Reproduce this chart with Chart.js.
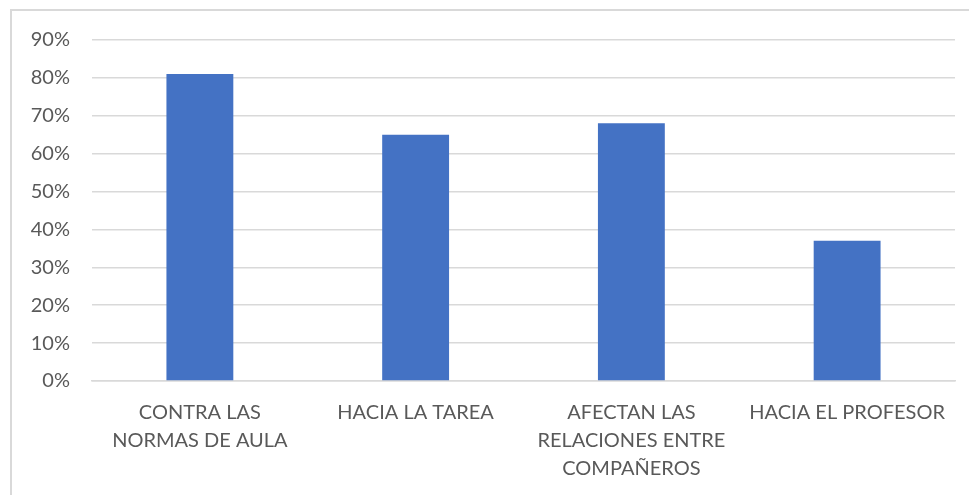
<!DOCTYPE html>
<html>
<head>
<meta charset="utf-8">
<script src="https://cdn.jsdelivr.net/npm/chart.js@4/dist/chart.umd.min.js"></script>
<style>
  html, body { margin: 0; padding: 0; background: #fff; overflow: hidden; }
  #frame { position: absolute; left: 10px; top: 9px; width: 980px; height: 500px;
           border: 2px solid #d9d9d9; box-sizing: border-box; }
  #wrap { position: absolute; left: 0; top: 0; width: 969px; height: 495px; }
</style>
</head>
<body>
<div id="frame"></div>
<div id="wrap"><canvas id="chart"></canvas></div>
<script>
var categories = [
  ['CONTRA LAS', 'NORMAS DE AULA'],
  ['HACIA LA TAREA'],
  ['AFECTAN LAS', 'RELACIONES ENTRE', 'COMPAÑEROS'],
  ['HACIA EL PROFESOR']
];
var values = [81, 65, 68, 37];
var tickValues = [0, 10, 20, 30, 40, 50, 60, 70, 80, 90];

var textColor = '#595959';
var gridColor = '#d9d9d9';

var createChart = function(){
  var canvas = document.getElementById('chart');
  return new Chart(canvas, {
    type: 'bar',
    data: {
      labels: categories,
      datasets: [{
        data: values,
        backgroundColor: '#4472c4',
        barPercentage: 0.31,
        categoryPercentage: 1
      }]
    },
    options: {
      responsive: true,
      maintainAspectRatio: false,
      animation: false,
      layout: { padding: { left: 10, right: 14, top: 40, bottom: 0 } },
      plugins: { legend: { display: false }, tooltip: { enabled: false } },
      scales: {
        x: {
          grid: { display: false, drawTicks: false },
          border: { color: gridColor, width: 1.5 },
          ticks: {
            color: textColor,
            font: { family: 'Lato', size: 20, lineHeight: 1.42 },
            padding: 17,
            maxRotation: 0,
            autoSkip: false
          },
          afterFit: function(scale){ scale.height = 114; }
        },
        y: {
          min: 0,
          max: 90,
          afterBuildTicks: function(scale){
            scale.ticks = tickValues.map(v => ({ value: v }));
          },
          grid: { color: gridColor, lineWidth: 1.5, drawTicks: false },
          border: { display: false },
          ticks: {
            color: textColor,
            font: { family: 'Lato', size: 20 },
            padding: 22,
            callback: v => v + '%'
          },
          afterFit: function(scale){ scale.width = 82; }
        }
      }
    }
  });
};

createChart();
</script>
</body>
</html>
